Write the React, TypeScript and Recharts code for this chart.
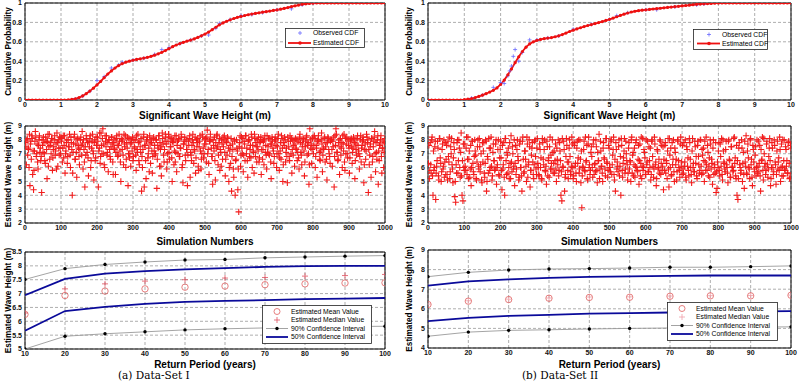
import React from 'react';
import { ComposedChart, Line, Scatter, XAxis, YAxis, CartesianGrid, ReferenceArea, Legend } from 'recharts';

// ---------------- DATA ----------------
// CDF curves: estimated values at wave heights 0.0, 0.1, ..., 10.0 m
const estCdfA = [
  0, 0, 0, 0, 0, 0, 0, 0, 0, 0, 0, 0,
  0.002, 0.006, 0.013, 0.025, 0.042, 0.065, 0.092, 0.122, 0.155, 0.192,
  0.23, 0.268, 0.3, 0.33, 0.355, 0.375, 0.39, 0.4, 0.41, 0.418,
  0.425, 0.432, 0.44, 0.45, 0.462, 0.476, 0.492, 0.51, 0.53, 0.55,
  0.567, 0.582, 0.595, 0.607, 0.618, 0.63, 0.645, 0.662, 0.68, 0.7,
  0.725, 0.75, 0.775, 0.795, 0.812, 0.827, 0.84, 0.852, 0.862, 0.871,
  0.879, 0.886, 0.893, 0.899, 0.905, 0.911, 0.917, 0.923, 0.929, 0.936,
  0.944, 0.953, 0.962, 0.971, 0.979, 0.986, 0.992, 0.996, 0.998,
  1, 1, 1, 1, 1, 1, 1, 1, 1, 1, 1, 1, 1, 1, 1, 1, 1, 1, 1, 1,
];
const estCdfB = [
  0, 0, 0, 0, 0, 0, 0, 0, 0, 0,
  0.003, 0.008, 0.015, 0.025, 0.037, 0.05, 0.065, 0.082, 0.1, 0.125,
  0.16, 0.205, 0.26, 0.32, 0.385, 0.445, 0.5, 0.545, 0.578, 0.6,
  0.615, 0.625, 0.632, 0.638, 0.644, 0.652, 0.662, 0.675, 0.69, 0.706,
  0.72, 0.733, 0.745, 0.757, 0.768, 0.778, 0.788, 0.798, 0.809, 0.82,
  0.832, 0.845, 0.858, 0.872, 0.885, 0.897, 0.907, 0.915, 0.921, 0.926,
  0.93, 0.934, 0.938, 0.942, 0.946, 0.95, 0.954, 0.958, 0.962, 0.966,
  0.97, 0.974, 0.978, 0.982, 0.986, 0.989, 0.992, 0.994, 0.996, 0.998, 0.999,
  1, 1, 1, 1, 1, 1, 1, 1, 1, 1, 1, 1, 1, 1, 1, 1, 1, 1, 1, 1,
];
const heightStep = 0.1;

const obsHeightA = [1.4, 1.6, 1.8, 2.0, 2.2, 2.4, 2.6, 2.7, 3.0, 3.3, 3.6, 3.8, 4.0, 4.3, 4.6, 4.9, 5.1, 5.3, 5.4, 5.7, 6.0, 6.3, 6.6, 7.0, 7.4, 7.7, 8.0];
const obsCdfA = [0.01, 0.04, 0.09, 0.2, 0.24, 0.33, 0.36, 0.39, 0.41, 0.43, 0.47, 0.52, 0.54, 0.58, 0.62, 0.66, 0.67, 0.74, 0.79, 0.83, 0.87, 0.88, 0.9, 0.93, 0.94, 0.98, 1.0];
const obsHeightB = [1.2, 1.5, 1.8, 2.0, 2.1, 2.2, 2.25, 2.3, 2.35, 2.4, 2.5, 2.6, 2.8, 3.0, 3.3, 3.6, 4.0, 4.5, 5.0, 5.2, 5.5, 6.0, 6.3, 6.8, 7.4, 7.6];
const obsCdfB = [0.02, 0.05, 0.13, 0.18, 0.17, 0.25, 0.3, 0.35, 0.45, 0.52, 0.4, 0.49, 0.62, 0.62, 0.64, 0.66, 0.73, 0.78, 0.83, 0.87, 0.9, 0.93, 0.93, 0.96, 0.98, 0.99];

// Simulated wave heights, two interleaved halves (odd / even 1.25-step samples of 1000 simulations)
const simStep = 2.5;
const simA = [
  7.8,6.2,8.1,7.4,6.0,4.7,7.9,8.3,5.5,4.4,7.2,8.6,6.8,7.7,5.9,8.0,7.1,6.5,4.2,7.6,
  8.2,7.0,6.3,7.9,5.2,8.4,7.5,6.6,7.8,8.1,5.8,7.3,8.0,6.9,7.7,8.5,6.1,7.4,8.2,7.0,
  7.9,6.4,8.3,7.6,5.6,7.2,8.0,6.8,7.5,8.4,6.0,7.8,4.0,7.1,8.2,6.6,7.7,5.3,8.1,7.4,
  6.2,8.0,7.6,8.6,5.9,7.3,4.6,6.9,8.1,7.8,5.4,7.5,8.3,6.5,7.9,7.2,5.1,8.0,6.7,7.6,
  8.2,4.6,7.4,6.3,8.5,7.0,8.8,7.7,6.0,7.9,8.3,7.1,5.7,8.0,6.8,7.5,8.2,6.4,7.8,7.3,
  5.5,8.1,7.6,6.9,8.4,7.2,5.0,7.9,8.0,6.2,7.7,8.3,6.6,7.4,4.7,8.1,7.0,6.1,7.8,8.2,
  6.8,7.5,8.0,5.8,7.3,8.4,6.5,7.9,7.1,4.3,6.0,8.2,4.6,7.6,5.2,8.0,6.7,7.4,8.3,6.3,
  7.8,5.6,8.1,7.2,6.9,8.0,4.5,7.6,8.3,6.1,7.3,5.4,8.5,7.7,6.4,7.9,8.2,5.9,7.0,8.4,
  6.6,7.5,8.1,5.0,7.8,6.2,8.3,7.1,5.7,7.9,8.0,6.8,7.4,8.4,6.0,4.9,7.7,8.2,6.5,7.3,
  4.7,7.9,8.1,5.3,6.9,7.6,8.4,6.3,7.2,5.6,8.0,7.8,6.1,7.5,8.3,5.9,7.0,8.2,6.7,7.7,
  8.1,6.4,8.7,7.3,5.5,7.9,8.0,6.8,4.8,7.6,8.2,5.1,7.4,8.4,6.2,7.8,5.8,7.1,8.0,6.6,
  7.5,8.3,5.4,7.9,6.9,8.1,5.0,7.2,6.3,4.3,7.7,5.9,8.0,4.0,6.6,7.4,4.4,2.8,7.8,6.1,
  8.2,7.0,5.7,7.9,6.5,8.3,7.4,5.3,8.0,6.8,7.6,8.4,6.0,7.2,5.6,8.1,7.8,6.4,7.5,8.2,
  6.7,7.9,5.5,8.0,7.3,6.2,8.3,7.6,5.9,7.1,8.1,6.9,7.7,5.2,8.2,7.4,6.3,7.9,8.0,6.0,
  7.5,8.4,5.8,7.2,6.6,8.1,5.0,7.8,8.2,6.4,7.4,4.9,7.9,6.8,8.3,7.0,5.6,8.0,7.6,6.1,
  8.1,7.3,6.5,7.9,5.9,8.4,7.1,6.2,7.7,8.0,5.4,7.5,8.2,6.9,7.8,4.8,8.8,7.4,6.3,8.1,
  7.0,8.3,6.0,7.6,5.3,8.0,7.9,6.6,7.2,8.5,5.7,7.4,8.1,6.4,7.8,5.1,8.2,7.3,6.8,7.9,
  8.0,6.1,7.5,4.6,8.3,8.8,7.1,6.5,7.8,5.5,8.1,7.4,6.0,7.7,8.4,5.8,7.0,8.2,6.7,7.6,
  5.6,7.9,8.1,6.3,7.4,8.0,5.2,7.7,6.9,8.3,7.2,5.9,8.0,6.4,7.6,8.2,4.9,7.3,6.6,8.4,
  7.8,4.2,6.2,7.5,5.3,8.1,6.8,7.9,8.6,5.7,7.1,8.0,4.8,6.5,7.7,8.3,5.6,7.4,6.0,7.8,
];
const simA2 = [
  7.5,8.0,6.9,7.3,8.4,7.7,6.6,8.1,7.2,5.8,7.9,8.2,7.0,6.4,7.6,8.3,7.4,6.8,8.0,7.1,
  7.8,6.5,8.2,7.3,7.9,6.1,8.4,7.6,7.0,8.1,6.7,7.5,8.3,7.2,5.9,7.8,8.0,6.9,7.4,8.2,
  8.1,7.4,6.7,8.3,7.0,7.8,6.3,8.0,7.5,6.9,8.2,7.3,5.6,7.7,8.4,6.6,7.1,8.0,7.6,6.8,
  7.3,8.2,6.9,7.7,8.0,6.4,7.5,8.3,7.1,6.7,7.9,8.1,6.0,7.4,8.4,7.0,7.8,6.5,8.2,7.6,
  7.9,7.2,8.5,6.8,7.6,8.1,7.0,6.2,8.3,7.5,6.9,7.8,8.0,7.3,6.6,8.2,7.7,5.5,7.4,8.0,
  7.1,8.3,6.8,7.6,7.9,6.4,8.1,7.3,6.9,8.4,7.5,6.0,7.8,8.2,7.0,6.7,7.7,8.0,7.2,6.5,
  8.0,7.4,6.9,8.3,7.1,7.8,6.2,7.5,8.1,6.8,7.3,8.4,7.6,6.5,7.9,8.2,7.0,5.7,7.7,8.0,
  7.2,6.8,8.2,7.6,7.0,8.0,6.6,7.4,8.3,7.8,6.1,7.5,8.1,6.9,7.3,8.4,7.7,6.4,7.9,7.1,
  8.2,7.5,6.7,7.9,8.0,7.2,6.4,8.3,7.6,7.0,8.1,6.8,7.4,8.2,6.2,7.7,7.9,6.9,8.0,7.3,
  6.9,7.6,8.3,7.1,6.5,8.0,7.8,7.3,8.2,6.7,7.5,8.1,5.8,7.9,7.2,6.6,8.4,7.4,7.0,8.0,
  7.7,8.2,7.0,6.3,7.9,8.4,7.4,6.8,8.0,7.2,6.5,7.8,8.3,7.5,6.9,8.1,7.3,6.1,7.7,8.2,
  8.0,7.1,6.6,7.8,8.2,7.4,6.0,7.6,8.1,6.8,7.3,5.3,7.9,6.5,8.0,7.2,5.9,7.5,8.3,6.9,
  7.4,8.1,6.9,7.7,8.3,7.0,6.5,7.9,8.0,7.3,6.7,8.2,7.6,7.1,8.4,6.8,7.5,8.0,7.2,6.4,
  7.8,8.2,7.3,6.6,7.9,8.0,7.1,6.9,8.3,7.5,7.0,8.1,6.4,7.7,8.0,7.2,6.8,8.2,7.6,7.0,
  8.1,7.0,6.7,7.8,8.3,7.4,6.2,7.6,8.0,7.1,6.8,8.2,7.5,6.5,7.9,8.1,7.3,6.9,8.0,7.7,
  7.4,8.0,7.1,6.7,8.2,7.8,6.9,7.5,8.1,7.2,6.4,7.9,8.3,7.6,7.0,6.2,8.0,7.7,7.3,8.2,
  7.6,8.1,6.8,7.4,7.9,8.3,7.1,6.5,8.0,7.7,6.9,7.3,8.2,7.5,6.6,7.8,8.1,7.0,6.3,8.0,
  7.3,7.9,8.2,6.8,7.6,8.4,7.1,6.6,8.0,7.5,6.9,7.8,8.3,7.2,6.4,8.1,7.7,7.0,8.0,7.4,
  6.7,8.0,7.5,7.1,8.2,7.8,6.5,7.3,8.1,7.6,7.0,6.8,8.3,7.4,7.9,8.0,6.2,7.7,7.2,8.2,
  8.0,7.3,6.9,7.7,8.1,6.4,7.5,8.2,7.0,7.8,6.6,8.3,7.2,7.6,8.0,6.8,7.4,7.9,7.1,8.1,
];
const simB = [
  6.3,5.2,7.8,5.6,8.2,4.0,5.8,7.5,3.7,6.1,7.9,5.4,8.1,6.7,5.0,7.3,5.9,8.0,6.4,5.5,
  7.6,5.1,6.8,8.2,5.7,7.0,6.2,4.9,7.8,3.9,3.5,5.6,8.0,6.5,7.4,5.3,8.5,4.0,3.6,6.0,
  7.7,5.8,8.2,6.6,5.2,7.2,5.9,4.7,7.9,6.3,5.5,8.0,6.9,5.1,7.5,6.1,8.1,5.7,7.0,4.9,
  6.4,7.8,5.3,8.0,4.3,6.8,5.6,7.4,6.0,8.2,5.1,7.1,6.5,5.8,7.7,4.8,6.2,8.0,5.4,7.3,
  6.7,4.4,5.9,7.8,4.0,8.1,5.5,6.9,7.4,5.2,6.3,8.3,5.7,7.0,6.1,4.7,7.6,5.9,8.0,6.5,
  5.3,7.9,6.0,4.3,8.2,5.6,7.2,6.6,5.0,7.7,6.2,8.0,4.6,5.8,7.4,6.4,5.2,7.9,6.8,5.5,
  8.1,6.0,5.4,7.3,6.7,5.1,7.8,6.2,8.0,5.7,4.8,7.5,6.5,5.3,8.2,6.9,5.9,7.1,6.3,5.6,
  7.7,5.0,6.6,8.0,5.8,7.2,4.0,3.6,6.1,7.9,4.3,5.5,8.1,6.4,5.2,7.4,6.8,5.7,8.2,6.0,
  5.4,7.6,6.3,5.0,7.9,6.7,5.6,8.0,4.9,3.1,6.1,7.3,5.8,8.2,6.5,5.2,7.7,6.0,5.5,7.1,
  6.8,5.3,8.0,6.2,5.7,7.5,4.9,6.5,8.4,5.9,7.2,6.1,5.0,7.8,6.6,5.4,8.1,6.3,5.8,7.4,
  6.0,7.9,5.5,6.9,8.2,5.1,4.3,7.3,6.4,5.7,8.0,6.1,4.0,7.6,5.3,6.7,8.1,5.9,7.0,6.2,
  5.6,7.8,6.5,5.0,8.2,6.9,5.4,7.4,6.1,8.0,5.8,6.6,4.8,7.7,6.3,5.2,8.1,6.0,7.1,5.5,
  8.0,6.4,5.7,7.5,6.0,5.1,7.9,6.8,5.3,8.2,6.2,4.7,7.3,5.9,6.6,8.0,5.5,7.6,6.1,4.4,
  5.8,7.8,6.5,5.2,8.1,4.6,6.9,7.4,5.5,6.2,8.0,5.0,7.1,6.6,5.7,7.9,6.0,5.3,8.2,6.4,
  7.6,5.6,6.1,8.0,5.1,7.3,6.7,5.4,7.8,6.0,4.9,8.1,6.3,5.7,7.5,6.8,5.2,7.9,6.2,5.8,
  8.0,5.5,6.9,7.4,5.0,6.4,8.2,5.8,7.1,6.1,5.3,7.7,6.6,4.8,8.0,6.2,5.6,4.2,4.5,6.0,
  7.8,5.4,6.8,8.1,5.1,7.2,6.3,5.7,7.9,6.0,4.9,8.0,6.5,5.3,7.5,6.1,5.8,8.2,6.7,5.2,
  4.0,3.7,7.4,6.2,5.6,8.0,5.0,7.1,4.5,6.4,8.3,5.5,7.7,6.0,5.2,8.1,6.6,4.7,7.3,5.9,
  6.9,5.4,8.0,6.1,5.7,7.6,4.3,6.5,8.2,5.1,7.0,6.3,5.8,7.9,5.3,6.8,8.1,4.7,6.0,7.4,
  5.5,8.0,6.4,4.8,7.2,5.9,6.7,8.2,5.0,7.7,6.1,5.4,8.0,5.8,7.3,6.5,5.6,7.9,5.2,7.6,
];
const simB2 = [
  7.6,5.8,6.2,8.0,5.4,7.2,6.0,7.9,5.6,6.5,7.4,5.1,8.1,6.3,5.7,7.7,6.1,5.3,7.8,6.6,
  5.5,7.9,6.4,5.2,7.5,8.1,5.9,6.7,7.3,5.0,6.2,7.8,5.6,8.0,6.0,7.1,5.4,6.5,7.7,5.8,
  6.1,7.4,5.5,8.2,6.6,5.3,7.6,6.0,7.9,5.7,6.8,7.2,5.2,6.4,8.0,5.9,7.5,6.2,5.1,7.8,
  7.2,5.6,6.3,7.9,5.0,6.6,8.1,5.8,7.4,6.1,5.4,7.7,6.5,5.9,8.0,6.0,7.3,5.5,6.7,7.9,
  5.8,7.6,6.2,5.3,8.1,6.5,7.1,5.6,6.0,7.8,5.2,6.4,7.5,5.9,8.0,6.3,5.5,7.3,6.8,5.1,
  7.7,6.0,5.4,7.9,6.6,5.7,7.2,6.1,8.2,5.3,6.4,7.5,5.8,6.9,7.8,5.5,6.2,8.0,5.9,7.4,
  6.3,5.5,7.7,6.0,5.2,8.1,6.6,7.3,5.8,6.1,7.9,5.4,6.7,7.5,5.9,6.3,8.0,5.6,7.2,6.5,
  5.9,7.4,6.2,5.4,7.8,6.5,5.7,8.1,6.0,7.3,5.3,6.8,7.6,5.8,6.4,8.0,5.5,6.1,7.7,5.2,
  7.8,6.1,5.6,7.4,6.3,8.0,5.9,6.6,7.2,5.4,6.0,7.9,5.7,6.4,7.6,5.1,8.2,6.2,5.8,7.5,
  6.0,7.7,5.5,6.3,8.0,5.8,7.1,6.5,5.2,7.9,6.1,5.6,7.4,6.7,5.9,8.1,6.4,5.3,7.6,6.0,
  5.7,8.0,6.2,7.3,5.5,6.6,7.8,5.9,6.1,7.5,5.4,6.8,8.1,5.8,6.3,7.2,5.6,7.9,6.5,5.1,
  7.4,5.9,6.4,8.0,5.6,7.1,6.2,5.3,7.8,6.0,5.7,7.6,6.5,5.4,8.2,6.1,5.8,7.3,6.7,5.5,
  6.2,7.9,5.7,6.5,7.4,5.5,8.0,6.1,5.9,7.7,6.4,5.2,7.2,6.0,5.6,7.9,6.3,5.8,7.5,6.6,
  7.6,5.6,6.3,7.2,5.9,8.1,6.0,5.4,7.8,6.6,5.7,7.4,6.2,5.1,8.0,6.5,5.8,7.7,6.1,5.5,
  5.9,7.8,6.4,5.3,7.5,6.1,5.8,8.1,6.6,5.5,7.2,6.0,5.7,7.9,6.3,5.4,7.6,6.8,5.6,8.0,
  6.1,7.3,5.6,6.5,7.9,5.8,6.2,7.6,5.4,6.7,8.0,5.9,6.3,7.4,5.5,6.0,7.8,5.7,6.4,7.2,
  5.8,7.7,6.1,5.5,8.0,6.4,5.9,7.3,6.2,5.6,7.9,6.6,5.3,7.5,6.0,5.7,8.1,6.3,5.4,7.6,
  6.5,5.2,7.8,6.0,5.8,7.4,6.3,5.5,7.9,6.1,5.6,7.2,6.7,5.9,8.0,6.2,5.3,7.6,6.4,5.7,
  7.5,6.0,5.6,7.9,6.3,5.4,7.3,6.6,5.8,8.1,6.1,5.5,7.7,6.2,5.9,7.4,6.5,5.2,7.8,6.0,
  5.7,7.6,6.2,5.5,7.9,6.4,5.8,7.3,6.0,5.4,8.0,6.5,5.9,7.5,6.1,5.6,7.8,6.3,5.3,7.4,
];

// Return period estimates
const returnPeriods = [10, 20, 30, 40, 50, 60, 70, 80, 90, 100];
const meanA = [6.25, 6.93, 7.09, 7.17, 7.23, 7.27, 7.32, 7.35, 7.38, 7.39];
const medianA = [6.3, 7.17, 7.35, 7.45, 7.5, 7.56, 7.58, 7.63, 7.65, 7.69];
const ci90UpA = [7.51, 7.9, 8.05, 8.14, 8.21, 8.23, 8.29, 8.32, 8.35, 8.37];
const ci90LoA = [5.0, 5.46, 5.55, 5.62, 5.69, 5.73, 5.76, 5.79, 5.81, 5.82];
const ci50UpA = [6.94, 7.53, 7.72, 7.81, 7.87, 7.92, 7.96, 7.99, 8.0, 8.0];
const ci50LoA = [5.66, 6.37, 6.52, 6.63, 6.7, 6.74, 6.76, 6.8, 6.82, 6.84];

const meanB = [6.22, 6.39, 6.47, 6.54, 6.58, 6.59, 6.64, 6.66, 6.66, 6.69];
const medianB = [6.24, 6.41, 6.49, 6.55, 6.6, 6.61, 6.65, 6.67, 6.68, 6.7];
const ci90UpB = [7.64, 7.86, 7.98, 8.03, 8.05, 8.08, 8.12, 8.12, 8.15, 8.19];
const ci90LoB = [4.6, 4.81, 4.9, 4.93, 4.97, 5.0, 5.02, 5.04, 5.06, 5.08];
const ci50UpB = [7.18, 7.4, 7.5, 7.58, 7.63, 7.65, 7.68, 7.7, 7.7, 7.7];
const ci50LoB = [5.37, 5.54, 5.64, 5.69, 5.75, 5.78, 5.81, 5.83, 5.86, 5.88];

// Ticks
const cdfXTicks = [0, 1, 2, 3, 4, 5, 6, 7, 8, 9, 10];
const cdfYTicks = [0, 0.2, 0.4, 0.6, 0.8, 1];
const simXTicks = [0, 100, 200, 300, 400, 500, 600, 700, 800, 900, 1000];
const simYTicks = [2, 3, 4, 5, 6, 7, 8, 9];
const rpTicks = [10, 20, 30, 40, 50, 60, 70, 80, 90, 100];
const rpYTicksA = [5, 5.5, 6, 6.5, 7, 7.5, 8, 8.5];
const rpYTicksB = [4, 5, 6, 7, 8, 9];

// ---------------- BUILT TABLES ----------------
const cdfRows = (vals: number[]) => vals.map((v, i) => ({ x: Math.round(i * heightStep * 10) / 10, y: v }));
const obsRows = (xs: number[], ys: number[]) => xs.map((x, i) => ({ x, y: ys[i] }));
const simRows = (a: number[], b: number[]) => [
  ...a.map((v, i) => ({ x: (i + 0.5) * simStep, y: v })),
  ...b.map((v, i) => ({ x: (i + 1) * simStep, y: v })),
];
const rpRows = (mean: number[], median: number[], u90: number[], l90: number[], u50: number[], l50: number[]) =>
  returnPeriods.map((x, i) => ({ x, mean: mean[i], median: median[i], u90: u90[i], l90: l90[i], u50: u50[i], l50: l50[i] }));

// ---------------- STYLES ----------------
const SANS = '"Liberation Sans", Arial, sans-serif';
const RED = '#ee1010';
const SIMRED = '#f21c1c';
const NAVY = '#0a0a9a';
const tickStyle = { fontSize: 7, fontFamily: SANS, fontWeight: 'bold', fill: '#111' } as any;
const xLabelStyle = { fontSize: 10, fontFamily: SANS, fontWeight: 'bold', fill: '#000' } as any;
const yLabelStyle = { fontSize: 8.2, fontFamily: SANS, fontWeight: 'bold', fill: '#000', textAnchor: 'middle' } as any;

const plusShape = (half: number, color: string, width: number) => (props: any) => {
  const { cx, cy } = props;
  if (cx == null || cy == null) return <g />;
  return (
    <path d={`M${cx - half},${cy}H${cx + half}M${cx},${cy - half}V${cy + half}`} stroke={color} strokeWidth={width} fill="none" />
  );
};

// ---------------- LEGEND ----------------
type LegKind = 'plusBlue' | 'lineDotRed' | 'circle' | 'plusRed' | 'plusPale' | 'lineDotGray' | 'lineBlue';
type LegItem = { label: string; kind: LegKind };
function LegendBox({ w, h, rows, items, markX, lineX1, lineX2, textX }: { w: number; h: number; rows: number[]; items: LegItem[]; markX: number; lineX1: number; lineX2: number; textX: number }) {
  return (
    <svg width={w} height={h} style={{ display: 'block' }}>
      <rect x={0.5} y={0.5} width={w - 1} height={h - 1} fill="#fff" stroke="#222" strokeWidth={0.8} />
      {items.map((it, i) => {
        const y = rows[i];
        let mark: React.ReactNode = null;
        if (it.kind === 'plusBlue') mark = <path d={`M${markX - 2},${y}H${markX + 2}M${markX},${y - 2}V${y + 2}`} stroke="#6a6aff" strokeWidth={0.8} />;
        if (it.kind === 'lineDotRed') mark = (<g><line x1={lineX1} x2={lineX2} y1={y} y2={y} stroke={RED} strokeWidth={1.8} /><circle cx={markX} cy={y} r={1.8} fill={RED} /></g>);
        if (it.kind === 'circle') mark = <circle cx={markX} cy={y} r={3} fill="none" stroke="#e06060" strokeWidth={0.8} />;
        if (it.kind === 'plusRed') mark = <path d={`M${markX - 3},${y}H${markX + 3}M${markX},${y - 3}V${y + 3}`} stroke="#e05060" strokeWidth={0.8} />;
        if (it.kind === 'plusPale') mark = <path d={`M${markX - 3},${y}H${markX + 3}M${markX},${y - 3}V${y + 3}`} stroke="#f0a0a8" strokeWidth={0.8} />;
        if (it.kind === 'lineDotGray') mark = (<g><line x1={lineX1} x2={lineX2} y1={y} y2={y} stroke="#999" strokeWidth={0.9} /><circle cx={markX} cy={y} r={1.7} fill="#000" /></g>);
        if (it.kind === 'lineBlue') mark = <line x1={lineX1} x2={lineX2} y1={y} y2={y} stroke={NAVY} strokeWidth={1.8} />;
        return (
          <g key={i}>
            {mark}
            <text x={textX} y={y} dy="0.35em" fontSize={6.8} fontFamily={SANS} fill="#000">{it.label}</text>
          </g>
        );
      })}
    </svg>
  );
}

// ---------------- PANEL ----------------
const ML = 30, MT = 14, MR = 8, XH = 28;
type Box = { x: number; y: number; w: number; h: number };
type PanelProps = {
  px: number; py: number; pw: number; ph: number;
  xDomain: [number, number]; yDomain: [number, number];
  xTicks: number[]; yTicks: number[];
  xLabel: string; yLabel: string; xLabelBaseline: number; yLabelX: number;
  legend?: React.ReactNode; legendBox?: Box;
  children: React.ReactNode;
};
function Panel(p: PanelProps) {
  const left = p.px - ML, top = p.py - MT;
  const W = p.pw + ML + MR, H = p.ph + MT + XH;
  const xLabelOffset = (p.py + p.ph + XH) - p.xLabelBaseline;
  const yLabelOffset = p.yLabelX - left;
  return (
    <div style={{ position: 'absolute', left, top, width: W, height: H }}>
      <ComposedChart width={W} height={H} margin={{ top: MT, right: MR, bottom: 0, left: 0 }} style={{ overflow: 'visible' }}>
        <CartesianGrid stroke="#777" strokeDasharray="3 2" strokeWidth={0.6} />
        <XAxis type="number" dataKey="x" domain={p.xDomain} ticks={p.xTicks} interval={0} allowDataOverflow height={XH}
          tickSize={0} tickMargin={2.5} axisLine={false} tick={tickStyle}
          label={{ value: p.xLabel, position: 'insideBottom', offset: xLabelOffset, style: xLabelStyle }} />
        <YAxis type="number" dataKey="y" domain={p.yDomain} ticks={p.yTicks} interval={0} allowDataOverflow width={ML}
          tickSize={0} tickMargin={3} axisLine={false} tick={tickStyle}
          label={{ value: p.yLabel, angle: -90, position: 'insideLeft', offset: yLabelOffset, style: yLabelStyle }} />
        {p.children}
        <ReferenceArea x1={p.xDomain[0]} x2={p.xDomain[1]} y1={p.yDomain[0]} y2={p.yDomain[1]} fill="none" fillOpacity={0} stroke="#000" strokeWidth={1} ifOverflow="visible" />
        {p.legend && p.legendBox ? (
          <Legend layout="horizontal" verticalAlign="middle" align="center" content={() => p.legend}
            wrapperStyle={{ position: 'absolute', left: p.legendBox.x - left, top: p.legendBox.y - top, width: p.legendBox.w, height: p.legendBox.h }} />
        ) : null}
      </ComposedChart>
    </div>
  );
}

const cdfLegendItems: LegItem[] = [
  { label: 'Observed CDF', kind: 'plusBlue' },
  { label: 'Estimated CDF', kind: 'lineDotRed' },
];
const rpLegendItemsA: LegItem[] = [
  { label: 'Estimated Mean Value', kind: 'circle' },
  { label: 'Estimated Median Value', kind: 'plusRed' },
  { label: '90% Confidence Interval', kind: 'lineDotGray' },
  { label: '50% Confidence Interval', kind: 'lineBlue' },
];
const rpLegendItemsB: LegItem[] = [
  { label: 'Estimated Mean Value', kind: 'circle' },
  { label: 'Estimated Median Value', kind: 'plusPale' },
  { label: '90% Confidence Interval', kind: 'lineDotGray' },
  { label: '50% Confidence Interval', kind: 'lineBlue' },
];

function CdfPanel({ px, pw, est, obsX, obsY, yLabelX, legendBox, legend }: any) {
  return (
    <Panel px={px} py={3} pw={pw} ph={97} xDomain={[0, 10]} yDomain={[0, 1]} xTicks={cdfXTicks} yTicks={cdfYTicks}
      xLabel="Significant Wave Height (m)" yLabel="Cumulative Probability" xLabelBaseline={118.5} yLabelX={yLabelX}
      legendBox={legendBox} legend={legend}>
      <Scatter data={obsRows(obsX, obsY)} dataKey="y" isAnimationActive={false} shape={plusShape(2, '#6a6aff', 0.8)} />
      <Line data={cdfRows(est)} dataKey="y" type="linear" stroke={RED} strokeWidth={1.8} isAnimationActive={false}
        dot={{ r: 1.6, fill: RED, stroke: RED, strokeWidth: 0 }} activeDot={false} />
    </Panel>
  );
}

function SimPanel({ px, pw, vals, vals2, yLabelX }: any) {
  return (
    <Panel px={px} py={126} pw={pw} ph={97} xDomain={[0, 1000]} yDomain={[2, 9]} xTicks={simXTicks} yTicks={simYTicks}
      xLabel="Simulation Numbers" yLabel="Estimated Wave Height (m)" xLabelBaseline={244.5} yLabelX={yLabelX}>
      <Scatter data={simRows(vals, vals2)} dataKey="y" isAnimationActive={false} shape={plusShape(3.2, SIMRED, 1.1)} />
    </Panel>
  );
}

function RpPanel({ px, pw, py, ph, yDomain, yTicks, rows, yLabelX, legendBox, legend, medianColor }: any) {
  return (
    <Panel px={px} py={py} pw={pw} ph={ph} xDomain={[10, 100]} yDomain={yDomain} xTicks={rpTicks} yTicks={yTicks}
      xLabel="Return Period (years)" yLabel="Estimated Wave Height (m)" xLabelBaseline={367.5} yLabelX={yLabelX}
      legendBox={legendBox} legend={legend}>
      <Line data={rows} dataKey="u90" stroke="#9a9a9a" strokeWidth={0.9} isAnimationActive={false} dot={{ r: 1.7, fill: '#000', stroke: '#000', strokeWidth: 0 }} activeDot={false} />
      <Line data={rows} dataKey="l90" stroke="#9a9a9a" strokeWidth={0.9} isAnimationActive={false} dot={{ r: 1.7, fill: '#000', stroke: '#000', strokeWidth: 0 }} activeDot={false} />
      <Line data={rows} dataKey="u50" stroke={NAVY} strokeWidth={1.8} isAnimationActive={false} dot={false} activeDot={false} />
      <Line data={rows} dataKey="l50" stroke={NAVY} strokeWidth={1.8} isAnimationActive={false} dot={false} activeDot={false} />
      <Line data={rows} dataKey="median" stroke="none" isAnimationActive={false} dot={plusShape(3, medianColor, 0.8)} activeDot={false} />
      <Line data={rows} dataKey="mean" stroke="none" isAnimationActive={false} dot={{ r: 3.2, fill: 'none', stroke: '#e06060', strokeWidth: 0.8 }} activeDot={false} />
    </Panel>
  );
}

export default function App() {
  const LPX = 25, LPW = 360, RPX = 428, RPW = 363;
  const rowsA = rpRows(meanA, medianA, ci90UpA, ci90LoA, ci50UpA, ci50LoA);
  const rowsB = rpRows(meanB, medianB, ci90UpB, ci90LoB, ci50UpB, ci50LoB);
  const captionStyle: React.CSSProperties = { position: 'absolute', top: 370, fontFamily: '"DejaVu Serif", serif', fontSize: 10.5, lineHeight: '11px', whiteSpace: 'nowrap' };
  return (
    <div style={{ position: 'fixed', left: 0, top: 0, width: 800, height: 381, background: '#fff', overflow: 'hidden' }}>
      <CdfPanel px={LPX} pw={LPW} est={estCdfA} obsX={obsHeightA} obsY={obsCdfA} yLabelX={8}
        legendBox={{ x: 285, y: 28, w: 80, h: 20 }}
        legend={<LegendBox w={80} h={20} rows={[5, 15]} items={cdfLegendItems} markX={15} lineX1={3} lineX2={26} textX={28} />} />
      <CdfPanel px={RPX} pw={RPW} est={estCdfB} obsX={obsHeightB} obsY={obsCdfB} yLabelX={409}
        legendBox={{ x: 693, y: 29, w: 75, h: 21 }}
        legend={<LegendBox w={75} h={21} rows={[5.5, 14.5]} items={cdfLegendItems} markX={16} lineX1={4} lineX2={27} textX={29} />} />
      <SimPanel px={LPX} pw={LPW} vals={simA} vals2={simA2} yLabelX={8} />
      <SimPanel px={RPX} pw={RPW} vals={simB} vals2={simB2} yLabelX={409} />
      <RpPanel px={LPX} pw={LPW} py={252} ph={97} yDomain={[5, 8.5]} yTicks={rpYTicksA} rows={rowsA} yLabelX={8}
        medianColor="#e05060" legendBox={{ x: 262, y: 305, w: 110, h: 39 }}
        legend={<LegendBox w={110} h={39} rows={[6.5, 15, 23.5, 32]} items={rpLegendItemsA} markX={15} lineX1={4} lineX2={26} textX={29} />} />
      <RpPanel px={RPX} pw={RPW} py={250} ph={98} yDomain={[4, 9]} yTicks={rpYTicksB} rows={rowsB} yLabelX={409}
        medianColor="#f0a0a8" legendBox={{ x: 667, y: 302, w: 111, h: 39 }}
        legend={<LegendBox w={111} h={39} rows={[6.5, 15, 23.5, 32]} items={rpLegendItemsB} markX={15} lineX1={4} lineX2={26} textX={29} />} />
      <div style={{ ...captionStyle, left: 118 }}>(a) Data-Set I</div>
      <div style={{ ...captionStyle, left: 522 }}>(b) Data-Set II</div>
    </div>
  );
}
